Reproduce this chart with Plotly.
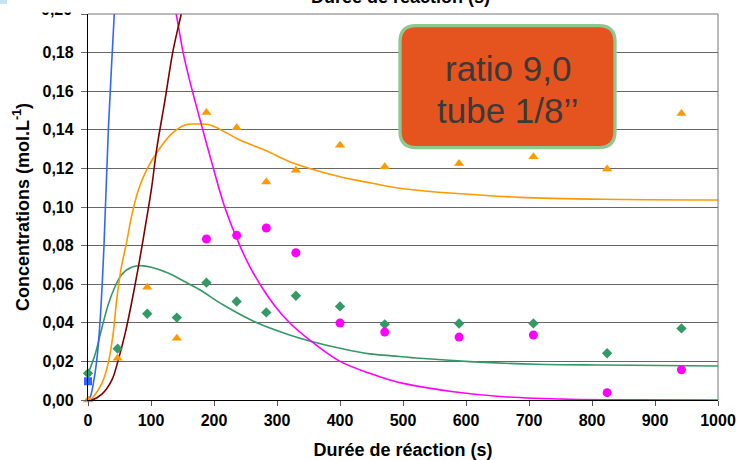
import plotly.graph_objects as go

# ---- measured data points ----
t_pts = [0, 47, 94, 141, 188, 236, 283, 330, 400, 471, 589, 707, 824, 942]
orange_pts = [0.0, 0.0216, 0.0584, 0.0320, 0.1489, 0.1410, 0.1130, 0.1190, 0.1320,
              0.1209, 0.1225, 0.1260, 0.1197, 0.1485]
green_pts = [0.0138, 0.0266, 0.0447, 0.0427, 0.0608, 0.0510, 0.0454, 0.0540, 0.0485,
             0.0392, 0.0396, 0.0397, 0.0242, 0.0371]
t_mag_pts = [188, 236, 283, 330, 400, 471, 589, 707, 824, 942]
magenta_pts = [0.0834, 0.0853, 0.0891, 0.0763, 0.0399, 0.0352, 0.0326, 0.0337, 0.0038, 0.0157]
t_blue_pts = [0]
blue_pts = [0.0097]

# ---- model curves ----
t_blue = [0, 4, 8.5, 13.7, 19, 25.4, 32.3, 41.7, 50]
c_blue = [0.0, 0.002, 0.0086, 0.020, 0.040, 0.080, 0.140, 0.200, 0.255]

t_maroon = [0, 6, 22, 38, 48, 59, 69, 80, 90, 101, 109, 122, 135, 148, 160]
c_maroon = [0.0, 0.0, 0.003, 0.0104, 0.0207, 0.0345, 0.050, 0.069, 0.088, 0.110, 0.130,
            0.155, 0.181, 0.200, 0.218]

t_orange = [0, 5, 22, 32, 40, 45.5, 53, 61, 69, 80, 93, 112, 133, 154, 170, 194, 241, 284,
            320, 400, 447, 479, 500, 580, 685, 818, 1000]
c_orange = [0.0, 0.0005, 0.0086, 0.019, 0.0345, 0.0518, 0.069, 0.0812, 0.095, 0.1088,
            0.1192, 0.1295, 0.138, 0.1425, 0.1430, 0.1425, 0.1347, 0.1290, 0.1235, 0.1157,
            0.1126, 0.1105, 0.1095, 0.1071, 0.1050, 0.1040, 0.1036]

t_green = [0, 11, 22, 32, 43, 53, 69, 88, 106, 128, 158, 178, 215, 268, 320, 352, 400, 447,
           479, 527, 606, 712, 818, 1000]
c_green = [0.0136, 0.0233, 0.0373, 0.0494, 0.0588, 0.0648, 0.0688, 0.0695, 0.0683, 0.0657,
           0.0605, 0.0570, 0.0492, 0.0400, 0.0337, 0.0306, 0.0268, 0.0239, 0.0230, 0.0216,
           0.0199, 0.0185, 0.0181, 0.0176]

t_magenta = [125, 140, 151, 161, 178, 199, 217, 241, 257, 273, 296, 320, 352, 400, 447, 479,
             500, 580, 659, 765, 870, 1000]
c_magenta = [0.224, 0.200, 0.180, 0.166, 0.145, 0.120, 0.100, 0.080, 0.069, 0.060, 0.049,
             0.040, 0.031, 0.020, 0.0138, 0.0104, 0.0086, 0.0043, 0.0017, 0.0004, 0.0001, 0.0]

x_ticks = list(range(0, 1001, 100))
y_ticks = [0.00, 0.02, 0.04, 0.06, 0.08, 0.10, 0.12, 0.14, 0.16, 0.18, 0.20]
y_ticktext = ["0,00", "0,02", "0,04", "0,06", "0,08", "0,10", "0,12", "0,14", "0,16", "0,18", ""]

x_title = "Durée de réaction (s)"
y_title = "Concentrations (mol.L<sup>-1</sup>)"
box_line1 = "ratio 9,0"
box_line2 = "tube 1/8’’"

ORANGE = "#FF9900"
GREEN = "#339966"
MAGENTA = "#FF00FF"
BLUE = "#3366FF"
MAROON = "#800000"

W, H = 739, 460
ML, MR, MT, MB = 88, 21, 14, 60
PW, PH = W - ML - MR, H - MT - MB


def px(x):
    return (x - ML) / PW


def py(y):
    return (H - MB - y) / PH


fig = go.Figure()

SM = 0.9
for tx, cy, col in [(t_green, c_green, GREEN), (t_orange, c_orange, ORANGE),
                    (t_magenta, c_magenta, MAGENTA), (t_blue, c_blue, BLUE),
                    (t_maroon, c_maroon, MAROON)]:
    fig.add_trace(go.Scatter(x=tx, y=cy, mode="lines",
                             line=dict(color=col, width=1.6, shape="spline", smoothing=SM)))

# markers
fig.add_trace(go.Scatter(x=t_pts, y=green_pts, mode="markers",
                         marker=dict(symbol="diamond", color=GREEN, size=8), cliponaxis=False))
fig.add_trace(go.Scatter(x=t_mag_pts, y=magenta_pts, mode="markers",
                         marker=dict(symbol="circle", color=MAGENTA, size=9), cliponaxis=False))
fig.add_trace(go.Scatter(x=t_pts, y=orange_pts, mode="markers",
                         marker=dict(symbol="triangle-up", color=ORANGE, size=9), cliponaxis=False))
fig.add_trace(go.Scatter(x=t_blue_pts, y=blue_pts, mode="markers",
                         marker=dict(symbol="square", color=BLUE, size=8), cliponaxis=False))

FONT = "Liberation Sans, Arial, sans-serif"

# rounded box
bx0, bx1, by0, by1, r = 400, 615, 25.7, 147.6, 16
rx, ry = r / PW, r / PH
X0, X1, Y0, Y1 = px(bx0), px(bx1), py(by1), py(by0)
path = (f"M {X0+rx},{Y0} L {X1-rx},{Y0} Q {X1},{Y0} {X1},{Y0+ry} "
        f"L {X1},{Y1-ry} Q {X1},{Y1} {X1-rx},{Y1} L {X0+rx},{Y1} Q {X0},{Y1} {X0},{Y1-ry} "
        f"L {X0},{Y0+ry} Q {X0},{Y0} {X0+rx},{Y0} Z")

shapes = [
    dict(type="line", xref="paper", yref="paper", x0=0, x1=1, y0=1, y1=1,
         line=dict(color="#777777", width=1)),
    dict(type="line", xref="paper", yref="paper", x0=1, x1=1, y0=0, y1=1,
         line=dict(color="#777777", width=1)),
    dict(type="path", xref="paper", yref="paper", path=path, fillcolor="#E5531E",
         line=dict(color="#8DC891", width=3.3), layer="above"),
    dict(type="rect", xref="paper", yref="paper", x0=px(0), x1=px(7), y0=py(4), y1=py(0),
         fillcolor="#C8E2F4", line=dict(width=0), layer="above"),
]

annotations = [
    dict(text=box_line1, x=px(507.5), y=py(68.7), xref="paper", yref="paper",
         showarrow=False, xanchor="center", yanchor="middle",
         font=dict(family=FONT, size=35, color="#3A3A3A")),
    dict(text=box_line2, x=px(507), y=py(110), xref="paper", yref="paper",
         showarrow=False, xanchor="center", yanchor="middle",
         font=dict(family=FONT, size=35, color="#3A3A3A")),
    dict(text=x_title, x=px(400), y=py(9), xref="paper", yref="paper",
         showarrow=False, xanchor="center", yanchor="bottom",
         font=dict(family=FONT, size=18, color="black", weight="bold")),
    dict(text="0,20", x=px(74), y=py(10), xref="paper", yref="paper",
         showarrow=False, xanchor="right", yanchor="middle",
         font=dict(family=FONT, size=16, color="black", weight="bold")),
    dict(text=" ", x=px(30), y=py(0), xref="paper", yref="paper",
         showarrow=False, xanchor="left", yanchor="top", width=54, height=11,
         bgcolor="white", borderpad=0, font=dict(size=6)),
]

fig.update_layout(
    width=W, height=H,
    margin=dict(l=ML, r=MR, t=MT, b=MB, autoexpand=False),
    paper_bgcolor="white", plot_bgcolor="white",
    showlegend=False,
    separators=",.",
    font=dict(family=FONT, color="black"),
    shapes=shapes,
    annotations=annotations,
)

fig.update_xaxes(
    range=[0, 1000], tickvals=x_ticks, tickformat="d", automargin=False,
    showgrid=False, zeroline=False,
    showline=True, linecolor="black", linewidth=1.3,
    ticks="outside", ticklen=5, tickcolor="#555555", tickwidth=1,
    tickfont=dict(family=FONT, size=16, weight="bold"),
    ticklabelstandoff=1,
    title=dict(text=x_title, font=dict(family=FONT, size=18, weight="bold"), standoff=17),
)
fig.update_yaxes(
    range=[0, 0.2], tickvals=y_ticks, ticktext=y_ticktext, automargin=False,
    showgrid=True, gridcolor="#666666", gridwidth=1, zeroline=False,
    showline=True, linecolor="black", linewidth=1.3,
    ticks="outside", ticklen=6, tickcolor="#666666", tickwidth=1,
    tickfont=dict(family=FONT, size=16, weight="bold"),
    ticklabelstandoff=4,
    title=dict(text=y_title, font=dict(family=FONT, size=18, weight="bold"), standoff=8),
)

fig.write_html("out.html", config={"displayModeBar": False},
               post_script="document.body.style.margin='0';")
